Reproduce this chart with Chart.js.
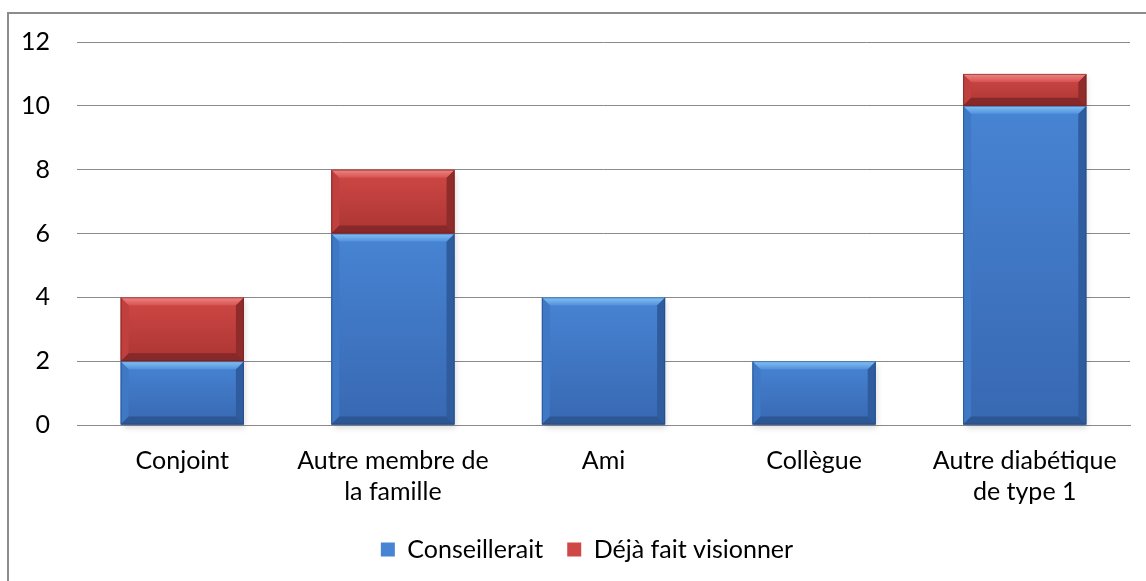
<!DOCTYPE html>
<html>
<head>
<meta charset="utf-8">
<script src="https://cdn.jsdelivr.net/npm/chart.js@4/dist/chart.umd.min.js"></script>
<style>
  html, body { margin: 0; padding: 0; background: #fff; }
  #wrap { width: 1146px; height: 581px; position: relative; }
</style>
</head>
<body>
<div id="wrap"><canvas id="chart" width="1146" height="581"></canvas></div>
<script>
// categories and series
const categories = [
  "Conjoint",
  ["Autre membre de", "la famille"],
  "Ami",
  "Collègue",
  ["Autre diabétique", "de type 1"],
];
const conseillerait = [2, 6, 4, 2, 10];
const dejaFaitVisionner = [2, 2, 0, 0, 1];
const yTicks = [0, 2, 4, 6, 8, 10, 12];

const FONT = "Lato, 'Open Sans', sans-serif";

// bevel colours: body gradient, top highlight, sides, bottom
const palette = {
  blue: {
    bodyTop: "#4784d3", bodyBot: "#3868b2",
    hiTop: "#86c2f5", hiBot: "#5292dc",
    left: "#3f78c4", right: "#2f5c9e", bottom: "#2d5794", edge: "#23477c",
  },
  red: {
    bodyTop: "#cf4845", bodyBot: "#ab3533",
    hiTop: "#f08684", hiBot: "#d65452",
    left: "#bf403e", right: "#8f2c2b", bottom: "#862928", edge: "#6e201f",
  },
};

function shade(ctx, pts, color) {
  ctx.beginPath();
  ctx.moveTo(pts[0][0], pts[0][1]);
  for (let i = 1; i < pts.length; i++) ctx.lineTo(pts[i][0], pts[i][1]);
  ctx.closePath();
  ctx.fillStyle = color;
  ctx.fill();
}

const bevelPlugin = {
  id: "bevel",
  afterLayout(chart) {
    // legend sits a little right of the plot centre in the picture
    if (chart.legend) {
      chart.legend.left += 22;
      chart.legend.right += 22;
    }
  },
  beforeDraw(chart) {
    // chart frame (only top and left show in the picture)
    const ctx = chart.ctx;
    ctx.save();
    ctx.strokeStyle = "#8c8c8c";
    ctx.lineWidth = 2;
    ctx.beginPath();
    ctx.moveTo(8, chart.height);
    ctx.lineTo(8, 13);
    ctx.lineTo(chart.width, 13);
    ctx.stroke();
    ctx.restore();
  },
  beforeDatasetsDraw(chart) {
    // soft shadow under each stack
    const ctx = chart.ctx;
    ctx.save();
    ctx.fillStyle = "rgba(0,0,0,0.3)";
    ctx.shadowColor = "rgba(0,0,0,0.45)";
    ctx.shadowBlur = 6;
    ctx.shadowOffsetX = 2;
    ctx.shadowOffsetY = 3;
    const metas = chart.getSortedVisibleDatasetMetas();
    categories.forEach((_, i) => {
      let top = Infinity, bot = -Infinity, x = 0, w = 0;
      metas.forEach((m) => {
        const el = m.data[i];
        if (!el || Math.abs(el.base - el.y) < 0.5) return;
        top = Math.min(top, el.y, el.base);
        bot = Math.max(bot, el.y, el.base);
        x = el.x; w = el.width;
      });
      if (top < bot) ctx.fillRect(x - w / 2 + 1, top + 1, w - 2, bot - top - 1);
    });
    ctx.restore();
  },
  afterDatasetsDraw(chart) {
    const ctx = chart.ctx;
    ctx.save();
    chart.getSortedVisibleDatasetMetas().forEach((m) => {
      const pal = palette[chart.data.datasets[m.index].pal];
      m.data.forEach((el) => {
        const l = el.x - el.width / 2, r = el.x + el.width / 2;
        const t = Math.min(el.y, el.base), b = Math.max(el.y, el.base);
        if (b - t < 0.5) return;
        const g = ctx.createLinearGradient(0, t, 0, b);
        g.addColorStop(0, pal.bodyTop);
        g.addColorStop(1, pal.bodyBot);
        ctx.fillStyle = g;
        ctx.fillRect(l, t, r - l, b - t);
        const bv = Math.min(8, (b - t) / 2);
        shade(ctx, [[l, t], [l + bv, t + bv], [l + bv, b - bv], [l, b]], pal.left);
        shade(ctx, [[r, t], [r - bv, t + bv], [r - bv, b - bv], [r, b]], pal.right);
        shade(ctx, [[l, b], [r, b], [r - bv, b - bv], [l + bv, b - bv]], pal.bottom);
        const hg = ctx.createLinearGradient(0, t, 0, t + bv);
        hg.addColorStop(0, pal.hiTop);
        hg.addColorStop(1, pal.hiBot);
        shade(ctx, [[l, t], [r, t], [r - bv, t + bv], [l + bv, t + bv]], hg);
        ctx.strokeStyle = pal.edge;
        ctx.globalAlpha = 0.6;
        ctx.lineWidth = 1;
        ctx.strokeRect(l + 0.5, t + 0.5, r - l - 1, b - t - 1);
        ctx.globalAlpha = 1;
      });
    });
    ctx.restore();
  },
};

new Chart(document.getElementById("chart"), {
  type: "bar",
  data: {
    labels: categories,
    datasets: [
      {
        label: "Conseillerait",
        data: conseillerait,
        backgroundColor: palette.blue.bodyTop,
        borderWidth: 0,
        pal: "blue",
      },
      {
        label: "Déjà fait visionner",
        data: dejaFaitVisionner,
        backgroundColor: palette.red.bodyTop,
        borderWidth: 0,
        pal: "red",
      },
    ],
  },
  options: {
    responsive: false,
    animation: false,
    layout: { padding: { top: 32, right: 16, bottom: 9, left: 0 } },
    datasets: { bar: { categoryPercentage: 1, barPercentage: 0.585 } },
    plugins: {
      tooltip: { enabled: false },
      legend: {
        position: "bottom",
        labels: {
          color: "#000",
          font: { family: FONT, size: 25 },
          boxWidth: 14,
          boxHeight: 14,
          padding: 24,
        },
      },
    },
    scales: {
      x: {
        stacked: true,
        grid: { display: false, drawTicks: false },
        border: { color: "#8a8a8a", width: 1 },
        afterFit: (scale) => {
          scale.height = 88;
        },
        ticks: {
          color: "#000",
          font: { family: FONT, size: 25, lineHeight: 1.25 },
          padding: 20,
          maxRotation: 0,
          autoSkip: false,
        },
      },
      y: {
        stacked: true,
        min: 0,
        max: 12,
        afterBuildTicks: (scale) => {
          scale.ticks = yTicks.map((v) => ({ value: v }));
        },
        afterFit: (scale) => {
          scale.width = 77;
        },
        grid: { color: "#8a8a8a", lineWidth: 1, drawTicks: false },
        border: { display: false },
        ticks: {
          color: "#000",
          font: { family: FONT, size: 25 },
          padding: 27,
        },
      },
    },
  },
  plugins: [bevelPlugin],
});
</script>
</body>
</html>
